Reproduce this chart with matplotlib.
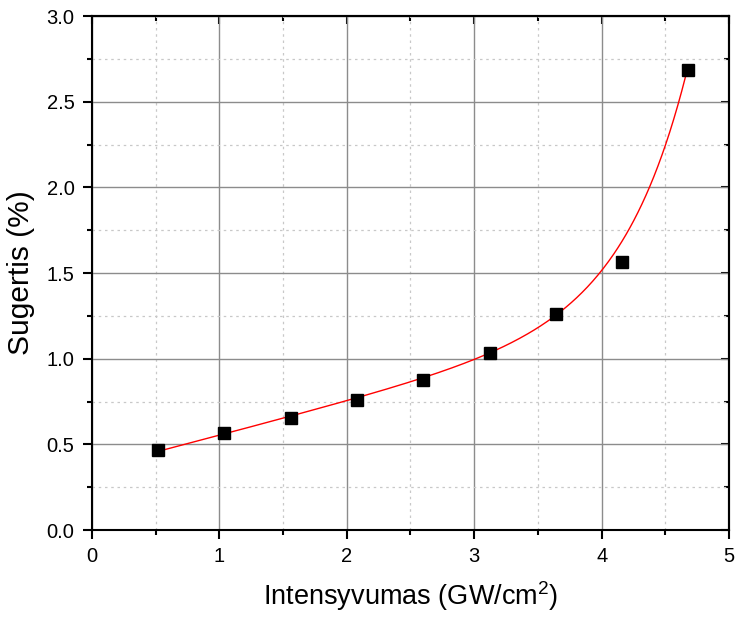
import numpy as np
import matplotlib
matplotlib.use("Agg")
import matplotlib.pyplot as plt
from matplotlib.ticker import MultipleLocator, FormatStrFormatter

plt.rcParams['font.family'] = ['Liberation Sans', 'DejaVu Sans']
plt.rcParams['mathtext.fontset'] = 'custom'
plt.rcParams['mathtext.rm'] = 'Liberation Sans'
plt.rcParams['mathtext.default'] = 'regular'

intensity = [0.52, 1.04, 1.56, 2.08, 2.60, 3.12, 3.64, 4.16, 4.68]
absorption = [0.465, 0.565, 0.652, 0.760, 0.875, 1.035, 1.260, 1.567, 2.685]

# Points
fit_curve_x = [0.51, 1.0, 1.5, 2.0, 3.04, 3.12, 3.5, 3.64, 4.0, 4.115, 4.2, 4.373, 4.503, 4.602, 4.672]
fit_curve_y = [0.452, 0.550, 0.659, 0.764, 1.010, 1.037, 1.174, 1.244, 1.507, 1.637, 1.745, 2.0, 2.25, 2.5, 2.68]

x_label = 'Intensyvumas (GW/cm$^2$)'
y_label = 'Sugertis (%)'

# Model y = a + b*x + c*exp(x/t) fitted (least squares, grid on t) to the curve readings
xc = np.array(fit_curve_x)
yc = np.array(fit_curve_y)
best = None
for t in np.linspace(0.15, 2.0, 3701):
    M = np.column_stack([np.ones_like(xc), xc, np.exp(xc / t)])
    coef, *_ = np.linalg.lstsq(M, yc, rcond=None)
    r = np.sum((M @ coef - yc) ** 2)
    if best is None or r < best[0]:
        best = (r, t, coef)
_, tb, cb = best
xd = np.array(intensity)
yd = np.array(absorption)
xf = np.linspace(xd.min(), xd.max(), 400)
yf = cb[0] + cb[1] * xf + cb[2] * np.exp(xf / tb)

fig = plt.figure(figsize=(7.35, 6.17), dpi=100)
ax = fig.add_axes([0.125, 0.141, 0.867, 0.833])

ax.plot(xf, yf, color='red', lw=1.0, zorder=3)
ax.plot(xd, yd, 's', color='black', ms=8, mec='black', zorder=4)

ax.set_xlim(0, 5)
ax.set_ylim(0, 3)
ax.xaxis.set_major_locator(MultipleLocator(1))
ax.xaxis.set_minor_locator(MultipleLocator(0.5))
ax.yaxis.set_major_locator(MultipleLocator(0.5))
ax.yaxis.set_minor_locator(MultipleLocator(0.25))
ax.yaxis.set_major_formatter(FormatStrFormatter('%.1f'))

ax.grid(which='major', color='#8c8c8c', lw=1.0, ls='-')
ax.grid(which='minor', color='#c8c8c8', lw=0.9, ls=(0, (2, 3)))
ax.set_axisbelow(True)

for s in ax.spines.values():
    s.set_linewidth(1.5)
    s.set_color('black')

ax.tick_params(which='both', direction='out', top=False, right=False,
               labelsize=14.5, width=1.5, color='black', pad=6)
ax.tick_params(which='major', length=6.5)
ax.tick_params(which='minor', length=3.5)

# inward ticks on top/right
axt = ax.secondary_xaxis('top')
axt.xaxis.set_major_locator(MultipleLocator(1))
axt.xaxis.set_minor_locator(MultipleLocator(0.5))
axt.tick_params(which='both', direction='in', labeltop=False, width=1.5)
axt.tick_params(which='major', length=6)
axt.tick_params(which='minor', length=3.5)
axt.spines['top'].set_linewidth(1.5)
axr = ax.secondary_yaxis('right')
axr.yaxis.set_major_locator(MultipleLocator(0.5))
axr.yaxis.set_minor_locator(MultipleLocator(0.25))
axr.tick_params(which='both', direction='in', labelright=False, width=1.5)
axr.tick_params(which='major', length=6)
axr.tick_params(which='minor', length=3.5)
axr.spines['right'].set_linewidth(1.5)

ax.set_xlabel(x_label, fontsize=19.5, labelpad=9)
ax.set_ylabel(y_label, fontsize=21.5, labelpad=8)

fig.savefig('out.png', dpi=100)
